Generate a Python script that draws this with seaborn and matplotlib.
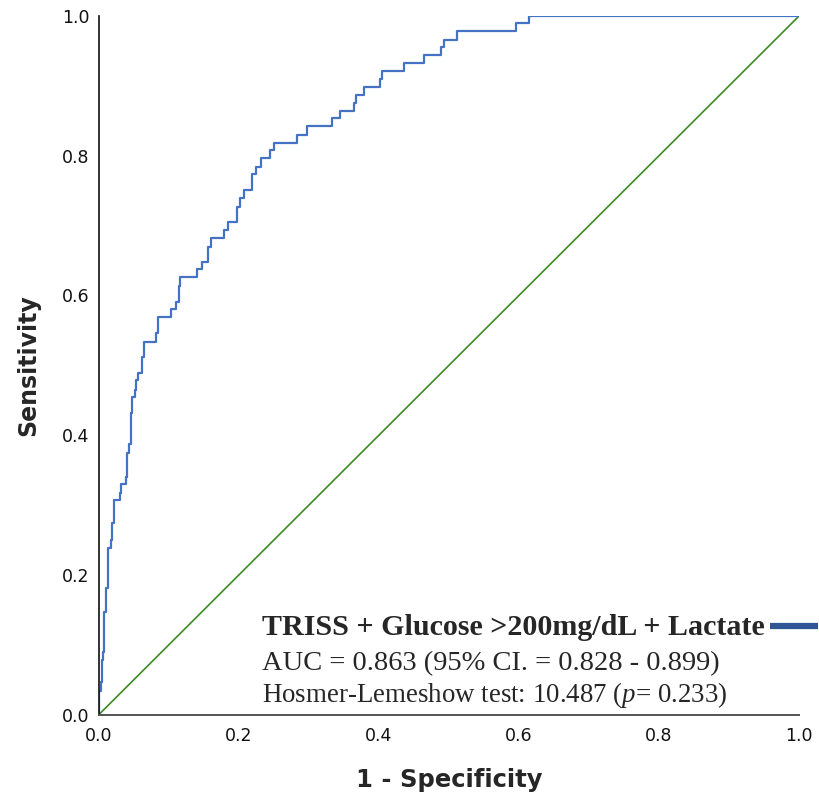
import matplotlib
matplotlib.use("Agg")
import matplotlib.pyplot as plt
import seaborn as sns
import pandas as pd
from matplotlib.lines import Line2D

# ROC corner points (1 - specificity, sensitivity)
fpr = [0.0, 0.0007, 0.0029, 0.0039, 0.0061, 0.0076, 0.0100, 0.0124, 0.0167,
       0.0186, 0.0214, 0.0300, 0.0314, 0.0381, 0.0396, 0.0429, 0.0453, 0.0471,
       0.0514, 0.0529, 0.0553, 0.0614, 0.0643, 0.0810, 0.0839, 0.1029, 0.1096,
       0.1143, 0.1157, 0.1396, 0.1471, 0.1557, 0.1596, 0.1786, 0.1843, 0.1967,
       0.2014, 0.2071, 0.2179, 0.2243, 0.2314, 0.2443, 0.2500, 0.2824, 0.2971,
       0.3324, 0.3443, 0.3643, 0.3671, 0.3786, 0.4014, 0.4039, 0.4357, 0.4643,
       0.4881, 0.4929, 0.5110, 0.5953, 0.6143, 1.0]
tpr = [0.0, 0.034, 0.047, 0.078, 0.089, 0.147, 0.181, 0.238, 0.250,
       0.274, 0.307, 0.317, 0.330, 0.340, 0.374, 0.387, 0.432, 0.455,
       0.465, 0.479, 0.489, 0.512, 0.533, 0.546, 0.569, 0.580, 0.591,
       0.613, 0.626, 0.638, 0.648, 0.669, 0.682, 0.694, 0.705, 0.727,
       0.739, 0.751, 0.774, 0.784, 0.797, 0.808, 0.818, 0.830, 0.842,
       0.854, 0.864, 0.876, 0.887, 0.899, 0.910, 0.921, 0.933, 0.944,
       0.955, 0.966, 0.978, 0.990, 1.0, 1.0]
ref_line = [0.0, 1.0]
ticks = [0.0, 0.2, 0.4, 0.6, 0.8, 1.0]

model_name = "TRISS + Glucose >200mg/dL + Lactate"
auc_text = "AUC = 0.863 (95% CI. = 0.828 - 0.899)"
hl_text = r"Hosmer-Lemeshow test: 10.487 ($\mathit{p}$= 0.233)"

sns.set_style("white")
plt.rcParams['font.family'] = ['DejaVu Sans']
plt.rcParams['mathtext.fontset'] = 'custom'
plt.rcParams['mathtext.rm'] = 'Liberation Serif'
plt.rcParams['mathtext.it'] = 'Liberation Serif:italic'

df = pd.DataFrame({'fpr': fpr, 'tpr': tpr})

fig = plt.figure(figsize=(8.2, 7.99), dpi=100)
ax = fig.add_axes([99 / 820, 1 - 714.5 / 799, 700 / 820, 698.5 / 799])

sns.lineplot(x=ref_line, y=ref_line, ax=ax, color='#3d8a22', linewidth=1.2)
sns.lineplot(data=df, x='fpr', y='tpr', ax=ax, color='#4472c4', linewidth=1.6,
             drawstyle='steps-post', estimator=None, sort=False)

ax.set_xlim(0, 1)
ax.set_ylim(0, 1)
ax.set_xticks(ticks)
ax.set_yticks(ticks)
ax.set_xticklabels([f"{t:.1f}" for t in ticks])
ax.set_yticklabels([f"{t:.1f}" for t in ticks])
ax.tick_params(axis='both', length=0, labelsize=12.5, colors='#111111')
ax.tick_params(axis='x', pad=9)
ax.tick_params(axis='y', pad=7)

for side in ['top', 'right']:
    ax.spines[side].set_visible(False)
ax.spines['left'].set_color('#111111')
ax.spines['bottom'].set_color('#555555')
ax.spines['left'].set_linewidth(1.2)
ax.spines['bottom'].set_linewidth(1.4)

ax.set_xlabel('1 - Specificity', fontsize=17.5, fontweight='bold', va='center')
ax.set_ylabel('Sensitivity', fontsize=17, fontweight='bold', va='center')
ax.xaxis.set_label_coords(0.5, -0.094)
ax.yaxis.set_label_coords(-0.101, 0.5)

serif = 'Liberation Serif'
ax.text(0.2329, 0.1138, model_name, transform=ax.transAxes, family=serif,
        fontsize=21.6, fontweight='bold', va='baseline')
ax.text(0.2329, 0.0637, auc_text, transform=ax.transAxes, family=serif,
        fontsize=20.5, va='baseline')
ax.text(0.2329, 0.0179, hl_text, transform=ax.transAxes, family=serif,
        fontsize=19.4, va='baseline')

fig.add_artist(Line2D([770 / 820, 818 / 820], [1 - 626 / 799, 1 - 626 / 799],
                      transform=fig.transFigure, color='#2f5597', linewidth=4.5,
                      solid_capstyle='butt'))

fig.savefig('out.png', dpi=100)
plt.close(fig)
